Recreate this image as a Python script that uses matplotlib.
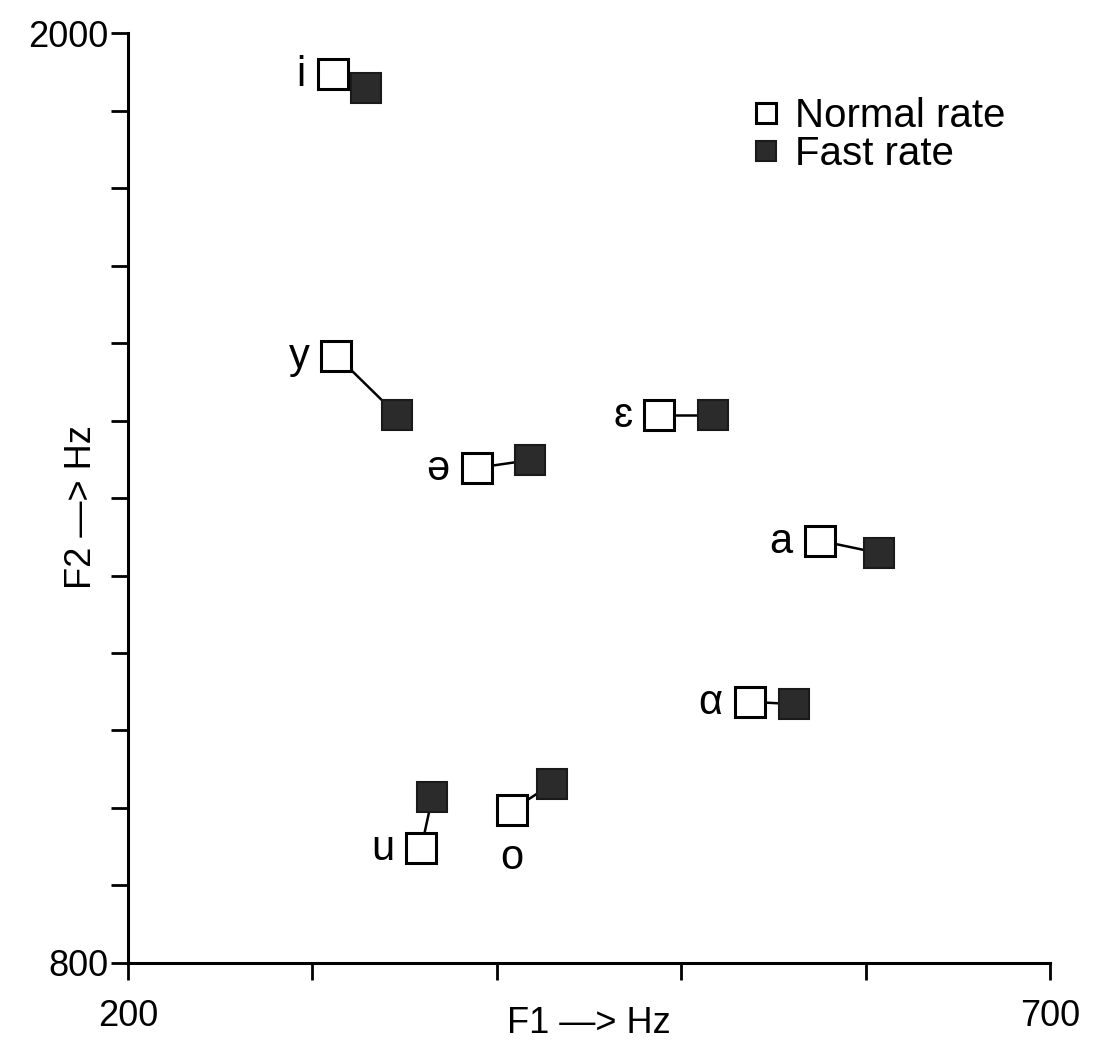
import numpy as np
import matplotlib.pyplot as plt
import matplotlib as mpl

mpl.rcParams['font.family'] = ['Liberation Sans', 'DejaVu Sans']

#==================================== data ====================================
vowels   = ["i", "y", "ə", "ɛ", "a", "α", "u", "o"]
f1_norm  = [311, 313, 389, 488, 575, 537, 359, 408]
f2_norm  = [1948, 1584, 1439, 1507, 1345, 1137, 948, 997]
f1_fast  = [329, 346, 418, 517, 607, 561, 365, 430]
f2_fast  = [1930, 1507, 1449, 1507, 1329, 1134, 1014, 1031]

#==================================== plot ====================================
fig = plt.figure(figsize=(10.93, 10.42), dpi=100)
ax = fig.add_axes([0.117, 0.076, 0.844, 0.892])
size, ms = 27, 22

for k in range(len(vowels)):
    ax.plot([f1_norm[k], f1_fast[k]], [f2_norm[k], f2_fast[k]], c='k', lw=1.8, zorder=1)

ax.plot(f1_norm, f2_norm, 's', ms=ms, mfc='white', mec='k', mew=2.2, ls='none',
        label='Normal rate', zorder=3)
ax.plot(f1_fast, f2_fast, 's', ms=ms, mfc='#2b2b2b', mec='#1a1a1a', mew=1.5, ls='none',
        label='Fast rate', zorder=2)

# vowel labels: left of the normal-rate square, 'o' below it
for k, v in enumerate(vowels):
    if v == "o":
        ax.annotate(v, (f1_norm[k], f2_norm[k]), xytext=(0, -48), textcoords='offset pixels',
                    ha='center', va='center', fontsize=size+3)
    else:
        ax.annotate(v, (f1_norm[k], f2_norm[k]), xytext=(-27, -1), textcoords='offset pixels',
                    ha='right', va='center', fontsize=size+3)

ax.set_xlim(200, 700)
ax.set_ylim(800, 2000)
ax.set_xticks(np.arange(200, 701, 100))
ax.set_xticklabels(["200", "", "", "", "", "700"])
ax.set_yticks(np.arange(800, 2001, 100))
ax.set_yticklabels(["800"] + [""] * 11 + ["2000"])
ax.tick_params(axis='both', labelsize=size-1, width=2, length=12, direction='out')
ax.tick_params(axis='x', pad=14)
ax.tick_params(axis='y', pad=2)
ax.spines['top'].set_visible(False)
ax.spines['right'].set_visible(False)
ax.spines['left'].set_linewidth(2.2)
ax.spines['bottom'].set_linewidth(2.2)

ax.set_xlabel("F1 —> Hz", fontsize=size-1)
ax.set_ylabel("F2 —> Hz", fontsize=size-1)
ax.xaxis.set_label_coords(0.50, -0.046)
ax.yaxis.set_label_coords(-0.031, 0.49)

leg = ax.legend(loc='upper right', bbox_to_anchor=(0.99, 0.97), frameon=False,
                fontsize=size+2, markerscale=0.65, handlelength=0.6, handletextpad=0.4,
                labelspacing=0.0)

fig.savefig("out.png", dpi=100, facecolor='white')
